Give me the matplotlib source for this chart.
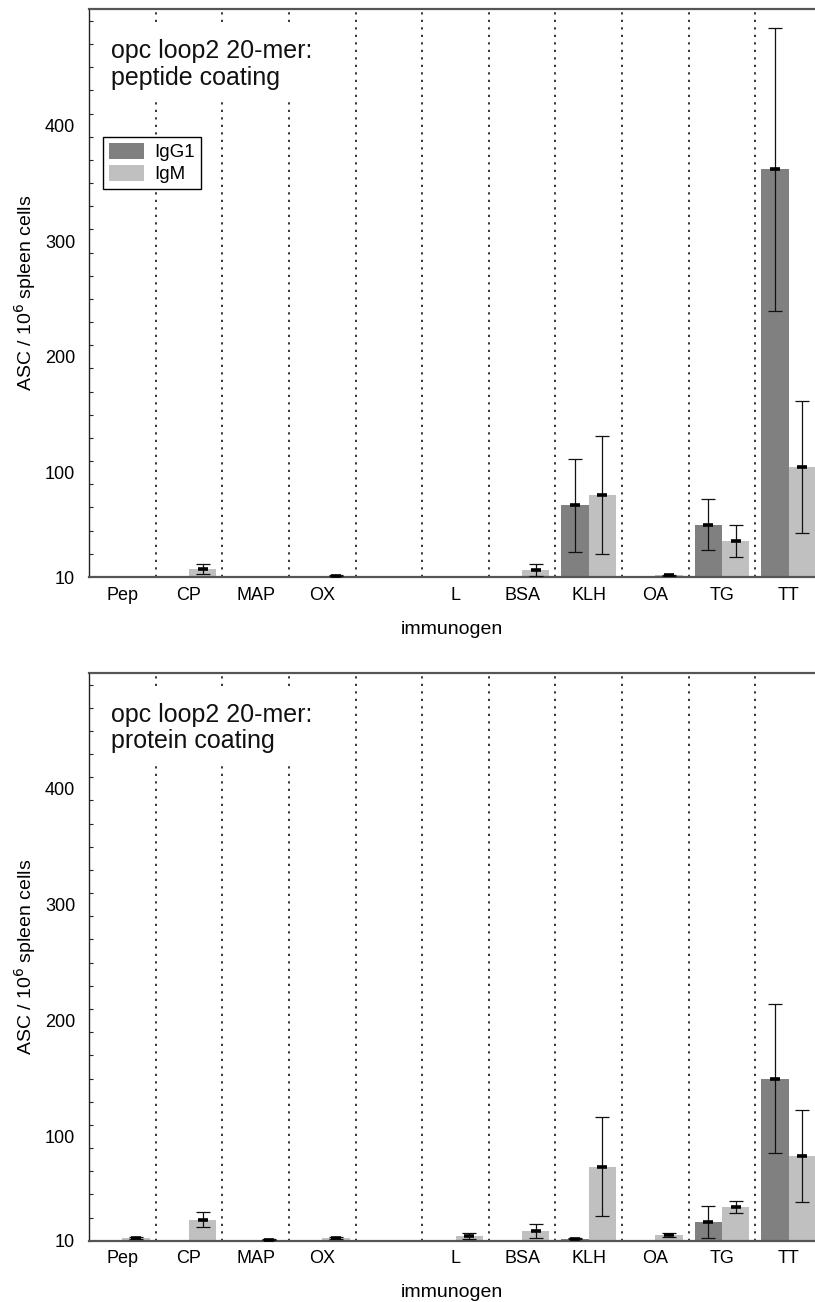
import numpy as np
import matplotlib
matplotlib.use("Agg")
import matplotlib.pyplot as plt
from matplotlib.patches import Patch
from matplotlib.ticker import FixedLocator

plt.rcParams['font.family'] = ['Liberation Sans', 'DejaVu Sans']
plt.rcParams['lines.scale_dashes'] = False

nan = np.nan

# Immunogens (one empty slot between OX and L)
categories = ["Pep", "CP", "MAP", "OX", "", "L", "BSA", "KLH", "OA", "TG", "TT"]

# Peptide coating: mean ASC / 10^6 spleen cells and error
pep_igg1 = [nan, nan, nan, nan, nan, nan, nan, 72, nan, 55, 362]
pep_igg1_err = [nan, nan, nan, nan, nan, nan, nan, 40, nan, 22, 122]
pep_igm = [nan, 17, nan, 11, nan, nan, 16, 81, 11.5, 41, 105]
pep_igm_err = [nan, 4, nan, 0.4, nan, nan, 5, 51, 0.6, 14, 57]

# Protein coating
pro_igg1 = [nan, nan, nan, nan, nan, nan, nan, 11.7, nan, 26, 150]
pro_igg1_err = [nan, nan, nan, nan, nan, nan, nan, 0.4, nan, 14, 64]
pro_igm = [12.3, 28, 10.9, 12.3, nan, 14, 18.6, 74, 15.2, 39, 83]
pro_igm_err = [0.8, 6.5, 0.4, 0.6, nan, 2.5, 6, 43, 1.7, 5.5, 40]

y_ticks = [10, 100, 200, 300, 400]
y_minor = list(range(30, 500, 20))

series_labels = ["IgG1", "IgM"]
colors = ["#808080", "#c0c0c0"]
BASE = 10
YMAX = 500
W = 0.41

fig = plt.figure(figsize=(8.15, 13.02), dpi=100)
ax_w = 733 / 815
ax_h = 567.7 / 1302
ax_top = fig.add_axes([89 / 815, 725 / 1302, ax_w, ax_h])
ax_bot = fig.add_axes([89 / 815, 61.3 / 1302, ax_w, ax_h])


def draw_panel(ax, igg1, igg1_err, igm, igm_err, title, legend):
    x = np.arange(len(categories))
    ax.set_xlim(-0.5, len(categories) - 0.5)
    ax.set_ylim(BASE, YMAX)

    for k in range(len(categories) - 1):
        ax.axvline(k + 0.5, color="black", lw=1.1,
                   linestyle=(0, (1.6, 3.8)), zorder=0.5)

    for vals, errs, off, col in ((igg1, igg1_err, -W / 2, colors[0]),
                                 (igm, igm_err, W / 2, colors[1])):
        v = np.asarray(vals, dtype=float)
        e = np.asarray(errs, dtype=float)
        m = np.isfinite(v)
        ax.bar(x[m] + off, v[m] - BASE, bottom=BASE, width=W,
               color=col, edgecolor="none", zorder=2)
        ax.errorbar(x[m] + off, v[m], yerr=e[m], fmt="none",
                    ecolor="#111111", elinewidth=0.9, capsize=4.8,
                    capthick=0.9, zorder=3)
        ax.plot(x[m] + off, v[m], linestyle="none", marker="_",
                markersize=7.5, markeredgewidth=2.6, color="black", zorder=4)

    ax.set_xticks(x)
    ax.set_xticklabels(categories, fontsize=13)
    ax.tick_params(axis="x", length=0, pad=7)
    ax.set_yticks(y_ticks)
    ax.set_yticklabels([str(t) for t in y_ticks], fontsize=13)
    ax.yaxis.set_minor_locator(FixedLocator(y_minor))
    ax.tick_params(axis="y", which="major", length=0, pad=10)
    ax.tick_params(axis="y", which="minor", direction="in", length=3,
                   width=0.8, color="#222222")

    for side in ("top", "bottom"):
        ax.spines[side].set_color("#555555")
        ax.spines[side].set_linewidth(1.6)
    ax.spines["left"].set_color("#222222")
    ax.spines["left"].set_linewidth(1.0)
    ax.spines["right"].set_visible(False)

    ax.text(0.03, 0.947, title, transform=ax.transAxes, fontsize=18,
            ha="left", va="top", linespacing=1.12, color="#111111", zorder=5,
            bbox=dict(facecolor="white", edgecolor="none", pad=9))

    ax.text(-0.0873, 0.5, "ASC / 10$^6$ spleen cells", transform=ax.transAxes,
            rotation=90, ha="center", va="center", fontsize=14)
    ax.text(0.495, -0.0916, "immunogen", transform=ax.transAxes,
            ha="center", va="center", fontsize=14)

    if legend:
        handles = [Patch(facecolor=c, edgecolor="none") for c in colors]
        leg = ax.legend(handles, series_labels, loc="upper left",
                        bbox_to_anchor=(0.019, 0.775), borderaxespad=0,
                        fontsize=13.5, fancybox=False, framealpha=1,
                        edgecolor="black", handlelength=1.9,
                        handleheight=0.95, labelspacing=0.2,
                        borderpad=0.3, handletextpad=0.55)
        leg.get_frame().set_linewidth(1.0)
        leg.set_zorder(6)


draw_panel(ax_top, pep_igg1, pep_igg1_err, pep_igm, pep_igm_err,
           "opc loop2 20-mer:\npeptide coating", legend=True)
draw_panel(ax_bot, pro_igg1, pro_igg1_err, pro_igm, pro_igm_err,
           "opc loop2 20-mer:\nprotein coating", legend=False)

fig.savefig("out.png", dpi=100)
